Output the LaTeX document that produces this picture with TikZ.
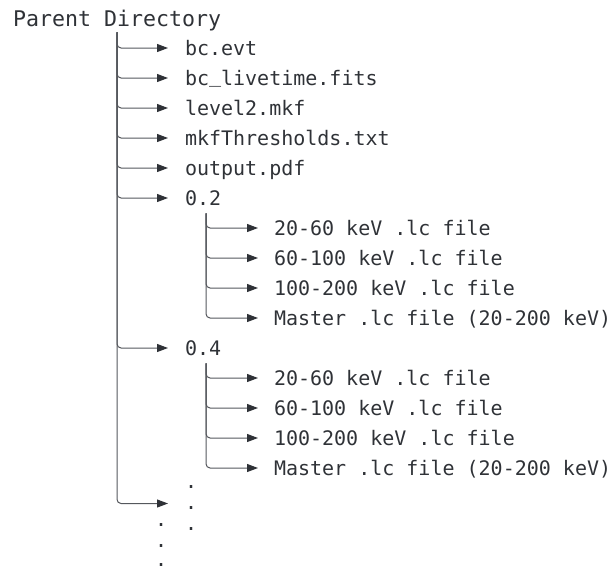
\documentclass[tikz,border=0pt]{standalone}
\usepackage{fontspec}
\setmonofont{DejaVu Sans Mono}
\usetikzlibrary{arrows.meta}
\definecolor{txt}{HTML}{2F3237}
\definecolor{ln}{HTML}{55585D}
\definecolor{tip}{HTML}{2F3237}
\newcommand{\usc}{\raisebox{3pt}{\textunderscore}}
\begin{document}
\begin{tikzpicture}[x=1pt,y=-1pt,
  lbl/.style={inner sep=0pt,outer sep=0pt,anchor=base west,text=txt,font=\ttfamily\fontsize{20}{24}\selectfont},
  title/.style={lbl,font=\ttfamily\fontsize{21.6}{26}\selectfont},
  branch/.style={draw=ln,line width=1pt,rounded corners=4pt,
    -{Triangle[length=11pt,width=8pt,fill=tip,color=tip]}},
  gap1/.style={shorten >=17pt},
  gap2/.style={shorten >=16pt}]
\useasboundingbox (0,0) rectangle (611,568);

% root
\node[title] (root) at (13,26) {Parent Directory};

% main level
\node[lbl] (a1) at (185,55) {bc.evt};
\node[lbl] (a2) at (185,85) {bc\usc livetime.fits};
\node[lbl] (a3) at (185,115) {level2.mkf};
\node[lbl] (a4) at (185,145) {mkfThresholds.txt};
\node[lbl] (a5) at (185,175) {output.pdf};
\node[lbl] (p2) at (185,205) {0.2};
\node[lbl] (p4) at (185,355) {0.4};

% subtree 0.2
\node[lbl] (b1) at (274,235) {20-60 keV .lc file};
\node[lbl] (b2) at (274,265) {60-100 keV .lc file};
\node[lbl] (b3) at (274,295) {100-200 keV .lc file};
\node[lbl] (b4) at (274,325) {Master .lc file (20-200 keV)};

% subtree 0.4
\node[lbl] (c1) at (274,385) {20-60 keV .lc file};
\node[lbl] (c2) at (274,415) {60-100 keV .lc file};
\node[lbl] (c3) at (274,445) {100-200 keV .lc file};
\node[lbl] (c4) at (274,475) {Master .lc file (20-200 keV)};

% dots
\node[lbl] (d1) at (185,488.5) {.};
\node[lbl] (d2) at (185,509.5) {.};
\node[lbl] (d3) at (185,530.5) {.};
\node[lbl] (v1) at (155,526.5) {.};
\node[lbl] (v2) at (155,547.5) {.};
\node[lbl] (v3) at (155,566.5) {.};
\coordinate (dend) at ([yshift=6pt]d2.base west);

% connectors main level
\coordinate (rs) at ([yshift=-2pt]root.south);
\foreach \n in {a1,a2,a3,a4,a5,p2,p4}
  \draw[branch,gap1] (rs) |- ([yshift=7pt]\n.base west);
\draw[branch,gap1] (rs) |- (dend);

% connectors subtrees
\coordinate (p2s) at ([xshift=3pt,yshift=-8pt]p2.south);
\foreach \n in {b1,b2,b3,b4}
  \draw[branch,gap2] (p2s) |- ([yshift=7pt]\n.base west);
\coordinate (p4s) at ([xshift=3pt,yshift=-8pt]p4.south);
\foreach \n in {c1,c2,c3,c4}
  \draw[branch,gap2] (p4s) |- ([yshift=7pt]\n.base west);
\end{tikzpicture}
\end{document}
